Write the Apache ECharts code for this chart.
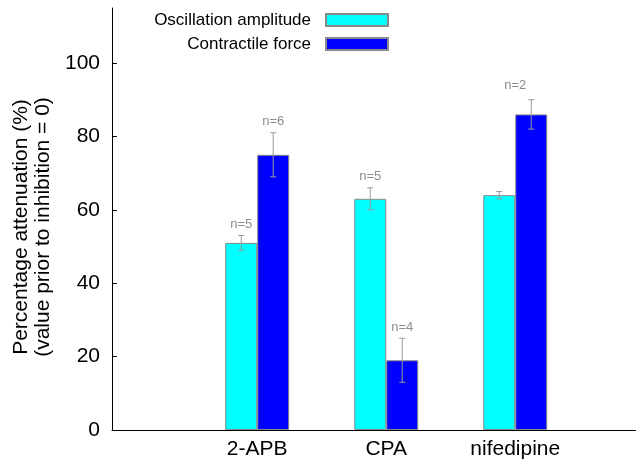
<!DOCTYPE html>
<html>
<head>
<meta charset="utf-8">
<script src="https://cdn.jsdelivr.net/npm/echarts@6/dist/echarts.min.js"></script>
<style>html,body{margin:0;padding:0;background:#fff;}#c{width:636px;height:464px;}</style>
</head>
<body>
<div id="c"></div>
<script>
const categories = ['2-APB', 'CPA', 'nifedipine'];
const oscMean = [51, 63, 64];
const oscErr = [2, 3, 1];
const forceMean = [75, 19, 86];
const forceErr = [6, 6, 4];
const oscN = ['n=5', 'n=5', null];
const forceN = ['n=6', 'n=4', null];
const groupN = [null, null, 'n=2'];
const yTicks = [0, 20, 40, 60, 80, 100];
const seriesNames = ['Oscillation amplitude', 'Contractile force'];

const FONT = 'Liberation Sans, Arial, Helvetica, sans-serif';
const BAR_W = 32;

const oscData = categories.map((c, i) => [i + 1, oscMean[i]]);
const forceData = categories.map((c, i) => [i + 1, forceMean[i]]);
const errData = [];
categories.forEach((c, i) => {
  errData.push([i + 1, oscMean[i], oscErr[i], -1, i]);
  errData.push([i + 1, forceMean[i], forceErr[i], 1, i]);
});

const chart = echarts.init(document.getElementById('c'), null, {renderer: 'canvas'});
chart.setOption({
  animation: false,
  backgroundColor: '#fff',
  grid: {left: 112, right: 0, top: 8, bottom: 34, containLabel: false},
  legend: [
    {data: [seriesNames[0]], right: 247, top: 8, padding: 0, align: 'right',
     itemWidth: 62, itemHeight: 12, icon: 'rect',
     textStyle: {fontFamily: FONT, fontSize: 17, color: '#000', padding: [0, 10, 0, 0], lineHeight: 24}},
    {data: [seriesNames[1]], right: 247, top: 32, padding: 0, align: 'right',
     itemWidth: 62, itemHeight: 12, icon: 'rect',
     textStyle: {fontFamily: FONT, fontSize: 17, color: '#000', padding: [0, 10, 0, 0], lineHeight: 24}}
  ],
  xAxis: {
    type: 'value', min: -0.1256, max: 3.936,
    axisLine: {show: true, onZero: false, lineStyle: {color: '#000', width: 1}},
    axisTick: {show: false},
    splitLine: {show: false},
    axisLabel: {
      customValues: [1, 2, 3],
      formatter: v => categories[Math.round(v) - 1] || '',
      fontFamily: FONT, fontSize: 21, color: '#000', margin: 9
    }
  },
  yAxis: {
    type: 'value', min: 0, max: 115, interval: 20,
    name: 'Percentage attenuation (%)\n(value prior to inhibition = 0)',
    nameLocation: 'middle', nameGap: 54,
    nameTextStyle: {fontFamily: FONT, fontSize: 21, color: '#000', lineHeight: 22, padding: [0, 16, 0, 0]},
    axisLine: {show: true, onZero: false, lineStyle: {color: '#000', width: 1}},
    axisTick: {show: true, inside: true, length: 5, customValues: yTicks, lineStyle: {color: '#000'}},
    splitLine: {show: false},
    axisLabel: {customValues: yTicks, fontFamily: FONT, fontSize: 21, color: '#000', margin: 12}
  },
  series: [
    {name: seriesNames[0], type: 'bar', data: oscData, barWidth: BAR_W, barGap: '0%',
     itemStyle: {color: '#00ffff', borderColor: '#8a8a8a', borderWidth: 1}},
    {name: seriesNames[1], type: 'bar', data: forceData, barWidth: BAR_W, barGap: '0%',
     itemStyle: {color: '#0000ff', borderColor: '#8a8a8a', borderWidth: 1}},
    {
      type: 'custom', data: errData, z: 10,
      encode: {x: 0, y: 1},
      renderItem: function (params, api) {
        const x = api.value(0), y = api.value(1), e = api.value(2), side = api.value(3), i = api.value(4);
        const c = api.coord([x, y]);
        const cx = c[0] + side * BAR_W / 2;
        const top = api.coord([x, y + e])[1];
        const bot = api.coord([x, y - e])[1];
        const st = {stroke: '#999', lineWidth: 1};
        const children = [
          {type: 'line', shape: {x1: cx, y1: top, x2: cx, y2: bot}, style: st},
          {type: 'line', shape: {x1: cx - 3, y1: top, x2: cx + 3, y2: top}, style: st},
          {type: 'line', shape: {x1: cx - 3, y1: bot, x2: cx + 3, y2: bot}, style: st}
        ];
        const lab = side < 0 ? oscN[i] : forceN[i];
        if (lab) {
          children.push({type: 'text', style: {text: lab, x: cx, y: top - 11, align: 'center', verticalAlign: 'middle',
            fill: '#8c8c8c', fontSize: 13, fontFamily: FONT}});
        }
        if (side > 0 && groupN[i]) {
          children.push({type: 'text', style: {text: groupN[i], x: c[0], y: top - 14, align: 'center', verticalAlign: 'middle',
            fill: '#8c8c8c', fontSize: 13, fontFamily: FONT}});
        }
        return {type: 'group', children: children};
      }
    }
  ]
});
</script>
</body>
</html>
